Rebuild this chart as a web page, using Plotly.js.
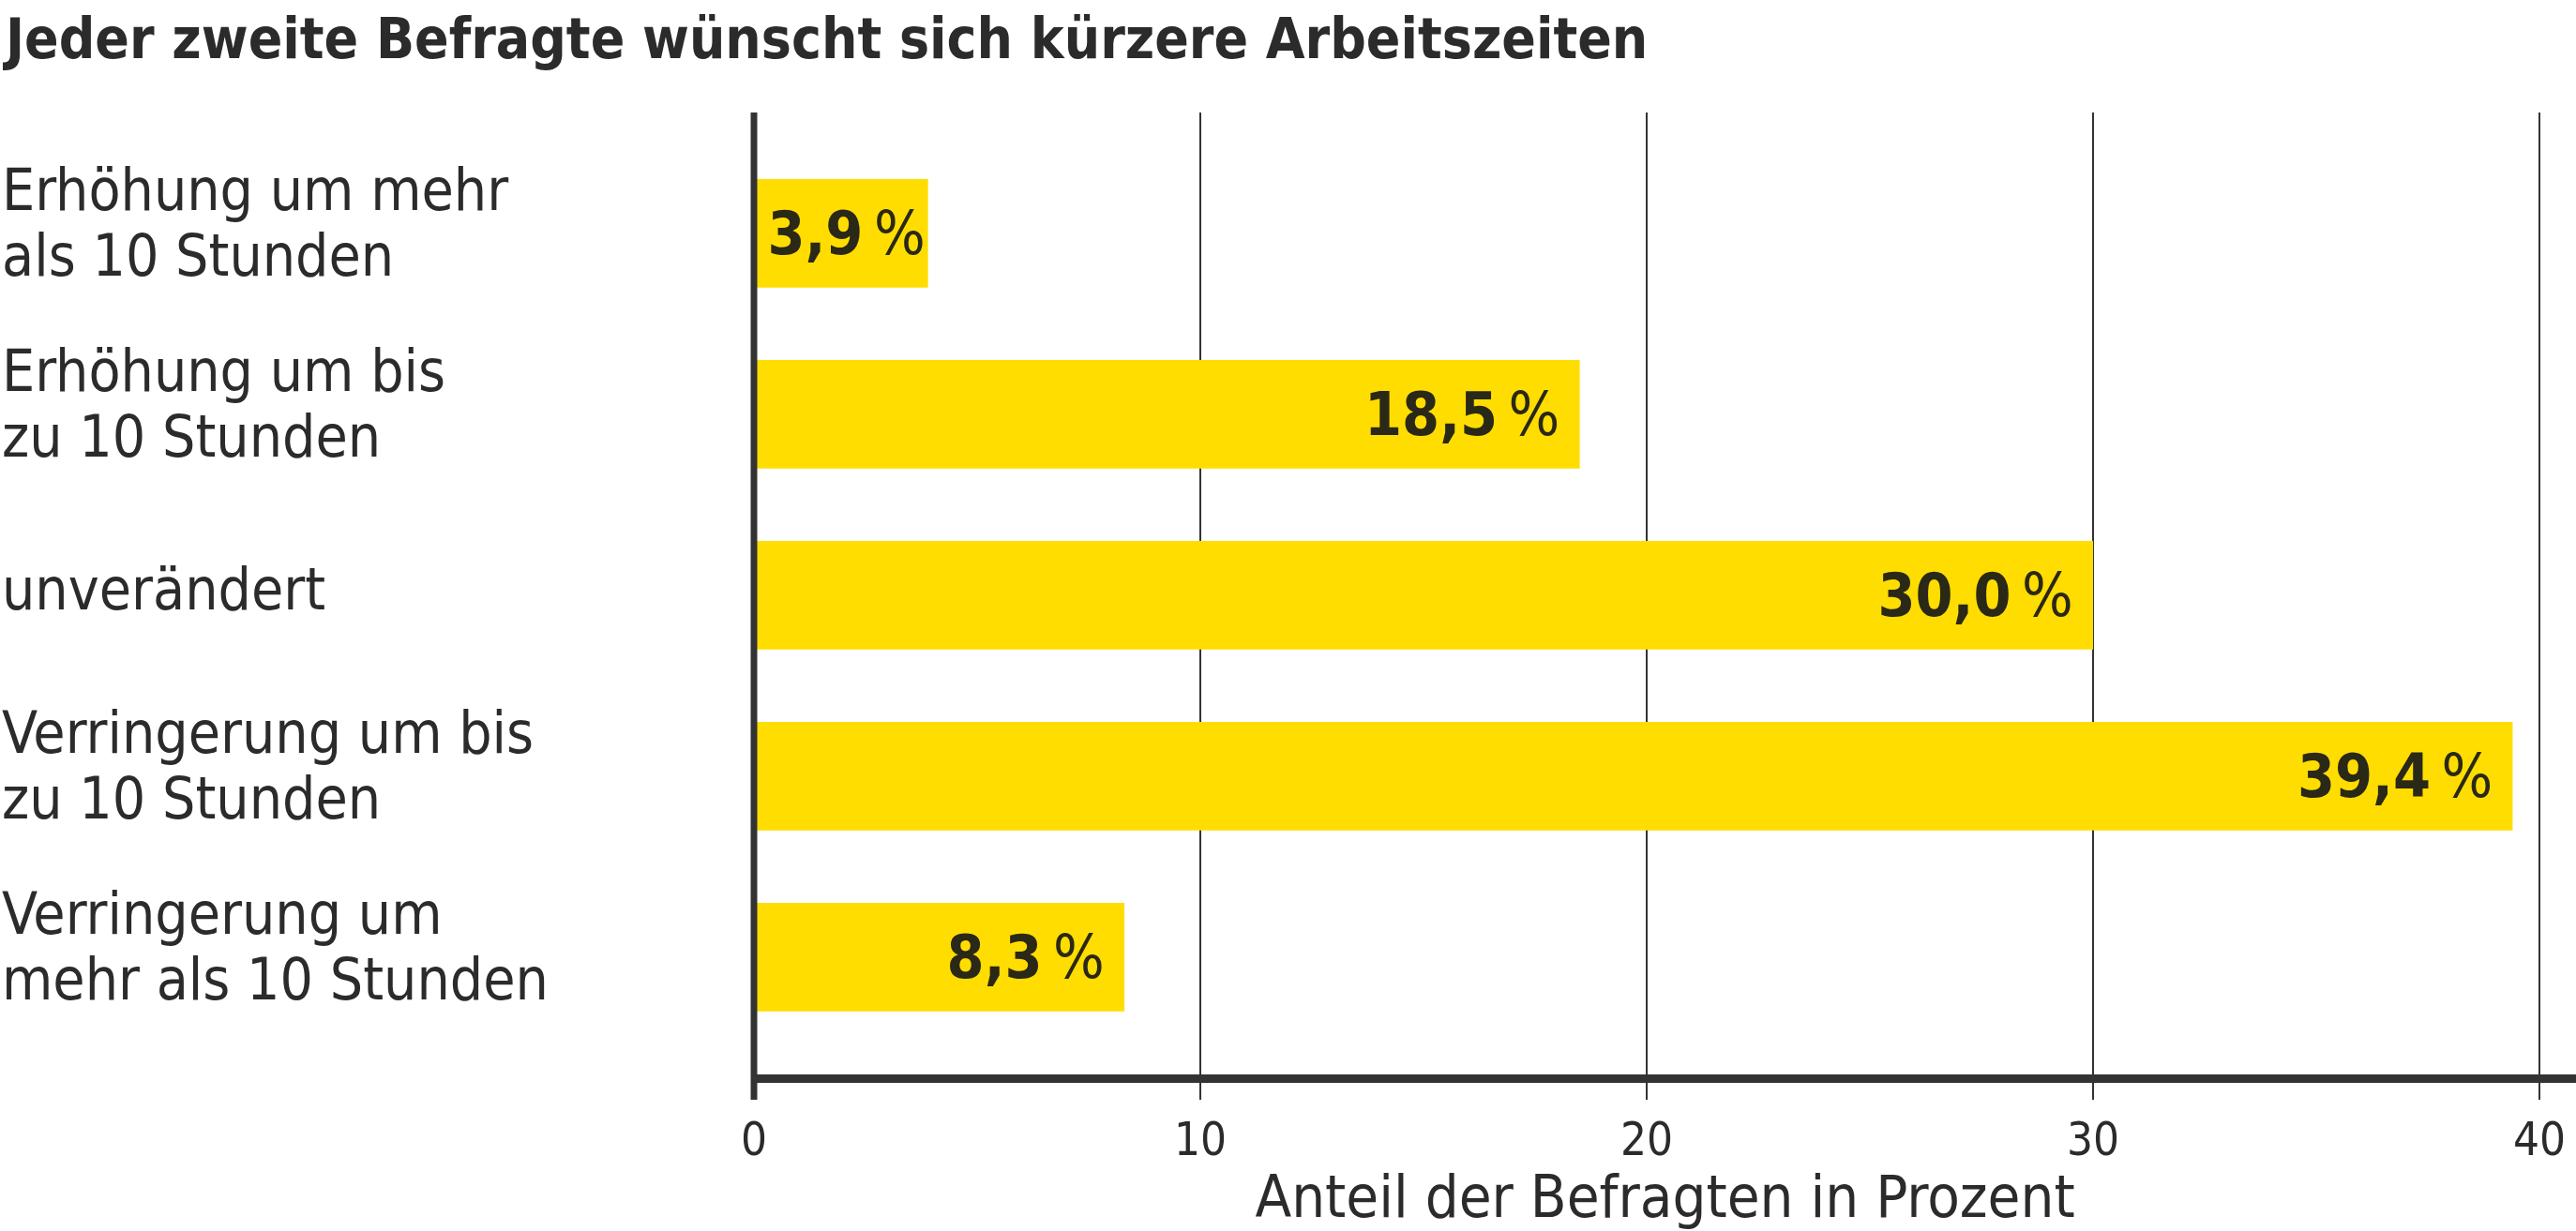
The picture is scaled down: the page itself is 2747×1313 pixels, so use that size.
<!DOCTYPE html>
<html><head><meta charset="utf-8">
<script src="https://cdn.plot.ly/plotly-3.0.1.min.js"></script>
<style>html,body{margin:0;padding:0;background:#fff}</style>
</head><body>
<div id="chart" style="width:2747px;height:1313px"></div>
<script>
const chartTitle = "Jeder zweite Befragte wünscht sich kürzere Arbeitszeiten";
const categories = [
  "Erhöhung um mehr<br>als 10 Stunden",
  "Erhöhung um bis<br>zu 10 Stunden",
  "unverändert",
  "Verringerung um bis<br>zu 10 Stunden",
  "Verringerung um<br>mehr als 10 Stunden"
];
const shares = [3.9, 18.5, 30.0, 39.4, 8.3];
const xTickValues = [0, 10, 20, 30, 40];
const xTickLabels = ["0", "10", "20", "30", "40"];
const xAxisTitle = "Anteil der Befragten in Prozent";

const FONT = "'DejaVu Sans Condensed', 'DejaVu Sans', sans-serif";
const INK = "#2b2b2b";
const AXIS = "#333333";

const W = 2747, H = 1313;
const L = 804, R = 0, T = 120, B = H - 1146;
const plotW = W - L - R, plotH = H - T - B;
const PX_PER_UNIT = 47.6;

// value labels: bold number, regular percent sign; short bars get no end padding
const barText = shares.map(function (v) {
  const num = v.toFixed(1).replace(".", ",");
  return "<b>" + num + "</b>\u2009%" + (v > 6 ? "\u00a0" : "");
});

const trace = {
  type: "bar",
  orientation: "h",
  x: shares,
  y: categories,
  marker: {color: "#FFDD00", line: {width: 0}},
  text: barText,
  texttemplate: "%{text}",
  textposition: "inside",
  insidetextanchor: "end",
  constraintext: "none",
  cliponaxis: false,
  textfont: {family: FONT, size: 64, color: "#2a2816"},
  hoverinfo: "skip"
};

const annotations = [];
categories.forEach(function (cat) {
  const lines = cat.split("<br>");
  const shifts = lines.length === 1 ? [6] : [46, -24];
  lines.forEach(function (line, j) {
    annotations.push({
      xref: "paper", yref: "y",
      x: -L / plotW, y: cat,
      xanchor: "left", yanchor: "middle",
      text: line, showarrow: false, align: "left",
      yshift: shifts[j],
      font: {family: FONT, size: 62, color: INK}
    });
  });
});

const layout = {
  width: W, height: H,
  margin: {l: L, r: R, t: T, b: B, pad: 0},
  paper_bgcolor: "#ffffff",
  plot_bgcolor: "#ffffff",
  separators: ",.",
  showlegend: false,
  bargap: 0.4,
  title: {
    text: chartTitle,
    x: 0, xref: "container", xanchor: "left",
    y: 1, yref: "container", yanchor: "top",
    pad: {t: 20, l: 6, r: 0, b: 0},
    font: {family: FONT, size: 60, weight: 700, color: INK}
  },
  xaxis: {
    range: [0, plotW / PX_PER_UNIT],
    tickmode: "array",
    tickvals: xTickValues,
    ticktext: xTickLabels,
    showgrid: true, gridcolor: AXIS, gridwidth: 2,
    zeroline: false,
    showline: true, linecolor: AXIS, linewidth: 9,
    ticks: "outside", ticklen: 18, tickwidth: 2, tickcolor: AXIS,
    tickfont: {family: FONT, size: 49, color: INK},
    fixedrange: true,
    automargin: false,
    title: {text: xAxisTitle, font: {family: FONT, size: 63, color: INK}, standoff: 10}
  },
  yaxis: {
    type: "category",
    range: [4.648, -0.668],
    showgrid: false, zeroline: false, showline: false,
    showticklabels: false, ticks: "",
    fixedrange: true, automargin: false
  },
  shapes: [{
    type: "line", layer: "above",
    xref: "paper", yref: "paper",
    x0: 0, x1: 0, y0: -27 / plotH, y1: 1,
    line: {color: AXIS, width: 7}
  }],
  annotations: annotations
};

Plotly.newPlot("chart", [trace], layout, {staticPlot: true, displayModeBar: false});
</script>
</body></html>
